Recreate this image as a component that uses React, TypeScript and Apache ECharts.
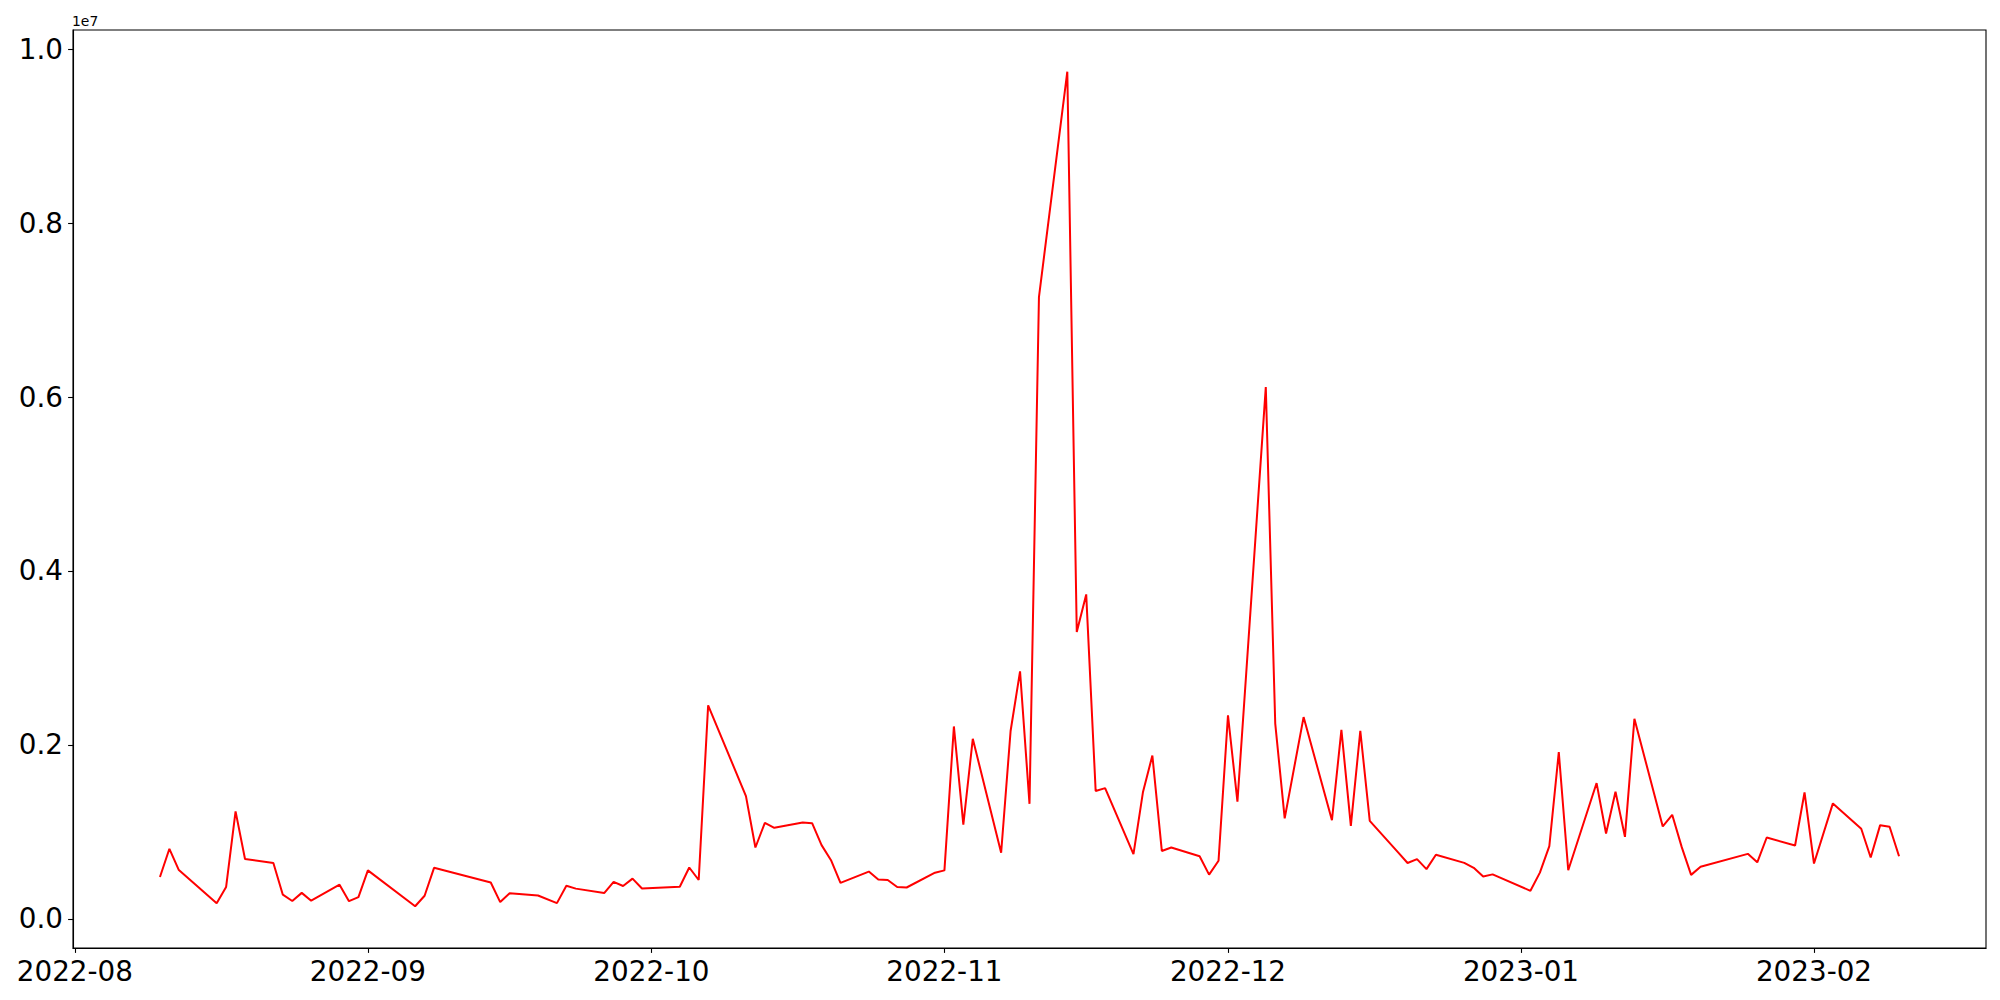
import React, { useEffect, useRef } from "react";
import * as echarts from "echarts";

const dates: string[] = [
  "2022-08-10", "2022-08-11", "2022-08-12", "2022-08-16", "2022-08-17", "2022-08-18", "2022-08-19",
  "2022-08-22", "2022-08-23", "2022-08-24", "2022-08-25", "2022-08-26", "2022-08-29", "2022-08-30",
  "2022-08-31", "2022-09-01", "2022-09-06", "2022-09-07", "2022-09-08", "2022-09-14", "2022-09-15",
  "2022-09-16", "2022-09-19", "2022-09-21", "2022-09-22", "2022-09-23", "2022-09-26", "2022-09-27",
  "2022-09-28", "2022-09-29", "2022-09-30", "2022-10-04", "2022-10-05", "2022-10-06", "2022-10-07",
  "2022-10-11", "2022-10-12", "2022-10-13", "2022-10-14", "2022-10-17", "2022-10-18", "2022-10-19",
  "2022-10-20", "2022-10-21", "2022-10-24", "2022-10-25", "2022-10-26", "2022-10-27", "2022-10-28",
  "2022-10-31", "2022-11-01", "2022-11-02", "2022-11-03", "2022-11-04", "2022-11-07", "2022-11-08",
  "2022-11-09", "2022-11-10", "2022-11-11", "2022-11-14", "2022-11-15", "2022-11-16", "2022-11-17",
  "2022-11-18", "2022-11-21", "2022-11-22", "2022-11-23", "2022-11-24", "2022-11-25", "2022-11-28",
  "2022-11-29", "2022-11-30", "2022-12-01", "2022-12-02", "2022-12-05", "2022-12-06", "2022-12-07",
  "2022-12-09", "2022-12-12", "2022-12-13", "2022-12-14", "2022-12-15", "2022-12-16", "2022-12-19",
  "2022-12-20", "2022-12-21", "2022-12-22", "2022-12-23", "2022-12-26", "2022-12-27", "2022-12-28",
  "2022-12-29", "2023-01-02", "2023-01-03", "2023-01-04", "2023-01-05", "2023-01-06", "2023-01-09",
  "2023-01-10", "2023-01-11", "2023-01-12", "2023-01-13", "2023-01-16", "2023-01-17", "2023-01-18",
  "2023-01-19", "2023-01-20", "2023-01-25", "2023-01-26", "2023-01-27", "2023-01-30", "2023-01-31",
  "2023-02-01", "2023-02-03", "2023-02-06", "2023-02-07", "2023-02-08", "2023-02-09", "2023-02-10",
];

const values: number[] = [
  480000, 805000, 560000, 180000, 366000, 1235000, 687000,
  641000, 277000, 205000, 298000, 208000, 392000, 203000,
  250000, 557000, 144000, 265000, 586000, 418000, 192000,
  294000, 268000, 180000, 380000, 347000, 296000, 425000,
  377000, 462000, 348000, 369000, 590000, 446000, 2455000,
  1411000, 820000, 1104000, 1046000, 1108000, 1100000, 847000,
  674000, 413000, 543000, 451000, 447000, 366000, 360000,
  530000, 557000, 2212000, 1083000, 2070000, 760000, 2160000,
  2845000, 1322000, 7151000, 9742000, 3298000, 3731000, 1469000,
  1503000, 743000, 1455000, 1878000, 780000, 820000, 720000,
  508000, 667000, 2340000, 1347000, 6115000, 2245000, 1155000,
  2320000, 1134000, 2172000, 1068000, 2162000, 1126000, 764000,
  642000, 686000, 571000, 737000, 643000, 586000, 486000,
  511000, 322000, 531000, 835000, 1916000, 558000, 1561000,
  981000, 1461000, 943000, 2300000, 1062000, 1196000, 827000,
  505000, 598000, 747000, 649000, 935000, 843000, 1453000,
  636000, 1327000, 1035000, 705000, 1077000, 1058000, 720000,
];

const xTickLabels: string[] = ["2022-08", "2022-09", "2022-10", "2022-11", "2022-12", "2023-01", "2023-02"];
const yTicks: number[] = [0, 2000000, 4000000, 6000000, 8000000, 10000000];

const toTs = (d: string) => new Date(d + "T00:00:00Z").getTime();

export default function App() {
  const ref = useRef<HTMLDivElement>(null);
  useEffect(() => {
    if (!ref.current) return;
    const chart = echarts.init(ref.current, null, { renderer: "svg" });
    const ts = dates.map(toTs);
    const xr = ts[ts.length - 1] - ts[0];
    const xMin = ts[0] - 0.05 * xr;
    const xMax = ts[ts.length - 1] + 0.05 * xr;
    const vMin = Math.min(...values);
    const vMax = Math.max(...values);
    const yr = vMax - vMin;
    const yMin = vMin - 0.05 * yr;
    const yMax = vMax + 0.05 * yr;
    const xTicks = xTickLabels.map((m) => toTs(m + "-01"));
    const font = "DejaVu Sans";
    chart.setOption({
      animation: false,
      useUTC: true,
      backgroundColor: "#ffffff",
      grid: {
        left: 73,
        right: 14,
        top: 30,
        bottom: 52,
        show: true,
        borderColor: "#000000",
        borderWidth: 1.1,
        backgroundColor: "transparent",
      },
      graphic: [
        {
          type: "text",
          left: 72,
          top: 14,
          style: { text: "1e7", fontSize: 13.9, fontFamily: font, fill: "#000000" },
        },
      ],
      xAxis: {
        type: "value",
        min: xMin,
        max: xMax,
        axisLine: { show: true, onZero: false, lineStyle: { color: "#000000", width: 1.1 } },
        axisTick: {
          show: true,
          inside: false,
          length: 4.9,
          lineStyle: { color: "#000000", width: 1.1 },
          customValues: xTicks,
        },
        axisLabel: {
          show: true,
          margin: 9,
          fontSize: 27.8,
          fontFamily: font,
          color: "#000000",
          customValues: xTicks,
          formatter: (v: number) => {
            const d = new Date(v);
            return `${d.getUTCFullYear()}-${String(d.getUTCMonth() + 1).padStart(2, "0")}`;
          },
        },
        splitLine: { show: false },
      },
      yAxis: {
        type: "value",
        min: yMin,
        max: yMax,
        axisLine: { show: true, onZero: false, lineStyle: { color: "#000000", width: 1.1 } },
        axisTick: {
          show: true,
          inside: false,
          length: 4.9,
          lineStyle: { color: "#000000", width: 1.1 },
          customValues: yTicks,
        },
        axisLabel: {
          show: true,
          margin: 10,
          fontSize: 27.8,
          fontFamily: font,
          color: "#000000",
          customValues: yTicks,
          formatter: (v: number) => (v / 1e7).toFixed(1),
        },
        splitLine: { show: false },
      },
      series: [
        {
          type: "line",
          data: ts.map((t, i) => [t, values[i]]),
          showSymbol: false,
          symbol: "none",
          lineStyle: { color: "#ff0000", width: 2 },
          itemStyle: { color: "#ff0000" },
        },
      ],
    });
    return () => chart.dispose();
  }, []);
  return (
    <div
      ref={ref}
      style={{ position: "fixed", left: 0, top: 0, width: 2000, height: 1000, background: "#fff" }}
    />
  );
}
